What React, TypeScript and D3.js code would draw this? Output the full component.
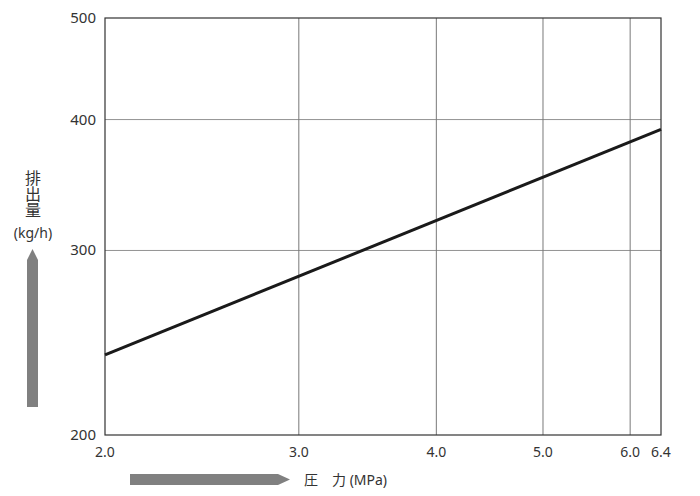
import * as d3 from "d3";

const xTicks = [2.0, 3.0, 4.0, 5.0, 6.0, 6.4];
const yTicks = [200, 300, 400, 500];
const pressure = [2.0, 6.4];
const discharge = [238.5, 391.5];

export default function App() {
  const width = 700;
  const height = 496;
  const margin = { left: 105, right: 39, top: 18, bottom: 61 };
  const font = "'Noto Sans', 'Noto Sans CJK JP', sans-serif";

  const x = d3
    .scaleLog()
    .domain([2.0, 6.4])
    .range([margin.left, width - margin.right]);
  const y = d3
    .scaleLog()
    .domain([200, 500])
    .range([height - margin.bottom, margin.top]);

  const line = d3
    .line<number>()
    .x((d) => x(d))
    .y((_, i) => y(discharge[i]));

  const [x0, x1] = x.range();
  const [y0, y1] = y.range();

  return (
    <svg
      width={width}
      height={height}
      style={{ position: "absolute", left: 0, top: 0 }}
      fontFamily={font}
    >
      <rect width={width} height={height} fill="#fff" />
      {/* grid */}
      {xTicks.slice(1, -1).map((t) => (
        <line key={t} x1={x(t)} x2={x(t)} y1={y1} y2={y0} stroke="#555" strokeWidth={0.8} />
      ))}
      {yTicks.slice(1, -1).map((t) => (
        <line key={t} x1={x0} x2={x1} y1={y(t)} y2={y(t)} stroke="#777" strokeWidth={0.8} />
      ))}
      <rect x={x0} y={y1} width={x1 - x0} height={y0 - y1} fill="none" stroke="#333" strokeWidth={1.2} />
      {/* data */}
      <path d={line(pressure) ?? ""} fill="none" stroke="#1a1a1a" strokeWidth={3} />
      {/* tick labels */}
      {xTicks.map((t) => (
        <text key={t} x={x(t)} y={y0 + 22} textAnchor="middle" fontSize={14} fill="#333">
          {t.toFixed(1)}
        </text>
      ))}
      {yTicks.map((t) => (
        <text key={t} x={x0 - 9} y={y(t) + 5} textAnchor="end" fontSize={15} fill="#333">
          {t}
        </text>
      ))}
      {/* y axis title and arrow */}
      <text
        x={33}
        y={170}
        fontSize={16}
        fill="#333"
        fontFamily="'Noto Sans CJK JP', sans-serif"
        style={{ writingMode: "vertical-rl" }}
      >
        排出量
      </text>
      <text x={33} y={238} textAnchor="middle" fontSize={14} fill="#333">
        (kg/h)
      </text>
      <path d="M27,407 L27,260 L32.5,249 L38,260 L38,407 Z" fill="#808080" />
      {/* x axis title and arrow */}
      <path d="M130,474 L278,474 L290,479.5 L278,485 L130,485 Z" fill="#808080" />
      <text x={304} y={485} fontSize={14} fill="#333">
        <tspan fontFamily="'Noto Sans CJK JP', sans-serif">圧　力</tspan> (MPa)
      </text>
    </svg>
  );
}
